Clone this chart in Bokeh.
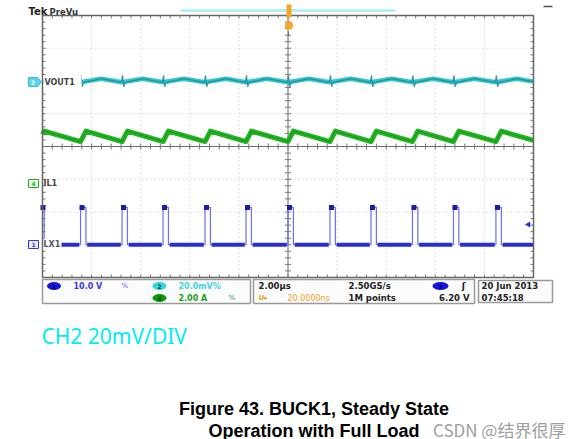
from bokeh.plotting import figure
from bokeh.embed import file_html
from bokeh.resources import INLINE
from bokeh.core.properties import value

# ---------------- data ----------------
time_per_div_us = 2.0
ch1_v_per_div = 10.0      # LX1
ch2_mv_per_div = 20.0     # VOUT1
ch4_a_per_div = 2.0       # IL1
ch1_offset_div = -3.0
ch2_offset_div = 2.02
ch4_offset_div = -1.13

lx_rise_us = [-10.15, -8.45, -6.76, -5.09, -3.38, -1.71, 0.0, 1.71, 3.38, 5.07, 6.74, 8.47]
lx_on_us = 0.22
lx_low_v = 0.0
lx_high_v = 11.4
il_valley_a = 2.56
il_peak_a = 3.20
vout_low_mv = -1.2
vout_high_mv = 1.0
vout_spike_up_mv = 3.0
vout_spike_dn_mv = -4.0
trig_level_v = 6.2

status_ch1 = "10.0 V"
status_ch2 = "20.0mV%"
status_ch4 = "2.00 A"
status_time = "2.00\u00b5s"
status_delay = "20.0000ns"
status_rate = "2.50GS/s"
status_points = "1M points"
status_trig = "6.20 V"
status_date = "20 Jun 2013"
status_clock = "07:45:18"
note_text = "CH2 20mV/DIV"
caption_lines = ["Figure 43. BUCK1, Steady State", "Operation with Full Load"]
watermark = "CSDN @\u7ed3\u754c\u5f88\u539a"

# ---------------- geometry ----------------
W, H = 583, 439
SX = 24.55   # px per microsecond
SY = 32.75   # px per division
GL, GT = 42, 15
x_start = -10 - GL / SX
x_end = x_start + W / SX
y_end = 4 + GT / SY
y_start = y_end - H / SY


def X(px):
    return x_start + px / SX


def Y(py):
    return y_end - py / SY


p = figure(width=W, height=H, x_range=(x_start, x_end), y_range=(y_start, y_end),
           x_axis_type=None, y_axis_type=None, toolbar_location=None,
           output_backend="svg", min_border=0, background_fill_color="white",
           border_fill_color="white")
p.outline_line_color = None


def T(px, py, text, color="#222222", size=8, bold=True, font="DejaVu Sans",
      align="left", baseline="middle"):
    p.text(x=[X(px)], y=[Y(py)], text=[text], text_color=color,
           text_font=value(font), text_font_size=f"{size}px",
           text_font_style="bold" if bold else "normal",
           text_align=align, text_baseline=baseline)


def R(x0, y0, x1, y1, fill="white", line=None, lw=1.0):
    p.quad(left=[X(x0)], right=[X(x1)], top=[Y(y0)], bottom=[Y(y1)],
           fill_color=fill, line_color=line, line_width=lw)


def clip(ts, vs, lo=-10.0, hi=10.0):
    ot, ov = [], []
    for i, (t, v) in enumerate(zip(ts, vs)):
        if lo <= t <= hi:
            if not ot and i > 0 and ts[i - 1] < lo:
                t0, v0 = ts[i - 1], vs[i - 1]
                vv = v if t == t0 else v0 + (v - v0) * (lo - t0) / (t - t0)
                ot.append(lo)
                ov.append(vv)
            ot.append(t)
            ov.append(v)
        elif t > hi and ot:
            t0, v0 = ts[i - 1], vs[i - 1]
            if t0 <= hi:
                ot.append(hi)
                ov.append(v0 + (v - v0) * (hi - t0) / (t - t0))
            break
    return ot, ov


period = (lx_rise_us[-1] - lx_rise_us[0]) / (len(lx_rise_us) - 1)

# ---------------- graticule ----------------
grid_x = [-8, -6, -4, -2, 2, 4, 6, 8]
grid_y = [-3, -2, -1, 1, 2, 3]
p.segment(x0=grid_x, x1=grid_x, y0=[-4] * len(grid_x), y1=[4] * len(grid_x),
          line_color="#c4c4c4", line_dash="1 3", line_width=1)
p.segment(x0=[-10] * len(grid_y), x1=[10] * len(grid_y), y0=grid_y, y1=grid_y,
          line_color="#c4c4c4", line_dash="1 3", line_width=1)
p.segment(x0=[0, -10], x1=[0, 10], y0=[-4, 0], y1=[4, 0], line_color="#6a6a6a", line_width=1)

tx = [-10 + 0.4 * i for i in range(51)]
ty = [-4 + 0.2 * i for i in range(41)]
tl = 3 / SY
tlx = 3 / SX
p.segment(x0=tx, x1=tx, y0=[-tl] * len(tx), y1=[tl] * len(tx), line_color="#777777")
p.segment(x0=tx, x1=tx, y0=[4] * len(tx), y1=[4 - tl] * len(tx), line_color="#777777")
p.segment(x0=tx, x1=tx, y0=[-4] * len(tx), y1=[-4 + tl] * len(tx), line_color="#777777")
p.segment(x0=[-tlx] * len(ty), x1=[tlx] * len(ty), y0=ty, y1=ty, line_color="#777777")
p.segment(x0=[-10] * len(ty), x1=[-10 + tlx] * len(ty), y0=ty, y1=ty, line_color="#777777")
p.segment(x0=[10] * len(ty), x1=[10 - tlx] * len(ty), y0=ty, y1=ty, line_color="#777777")

# ---------------- waveforms ----------------
# IL1 (green sawtooth)
il_t, il_v = [], []
for r in lx_rise_us:
    il_t += [r, r + lx_on_us]
    il_v += [il_valley_a, il_peak_a]
il_t.append(lx_rise_us[-1] + period)
il_v.append(il_valley_a)
il_t, il_v = clip(il_t, il_v)
il_y = [ch4_offset_div + v / ch4_a_per_div for v in il_v]
p.line(il_t, il_y, line_color="#22b422", line_width=5, line_join="round")
p.line(il_t, il_y, line_color="#138c13", line_width=1, line_alpha=0.7)

# VOUT1 (cyan ripple): thick band without the spikes, thin line with the spikes
rb_t, rb_v = [], []
vo_t, vo_v = [], []
for r in lx_rise_us:
    rb_t += [r, r + period * 0.5]
    rb_v += [vout_low_mv, vout_high_mv]
    vo_t += [r - 0.03, r + 0.02, r + 0.07, r + 0.13, r + period * 0.5]
    vo_v += [vout_low_mv, vout_spike_up_mv, vout_spike_dn_mv, vout_low_mv, vout_high_mv]
rb_t.append(lx_rise_us[-1] + period)
rb_v.append(vout_low_mv)
vo_t.append(lx_rise_us[-1] + period)
vo_v.append(vout_low_mv)
rb_t, rb_v = clip(rb_t, rb_v)
vo_t, vo_v = clip(vo_t, vo_v)
rb_y = [ch2_offset_div + v / ch2_mv_per_div for v in rb_v]
vo_y = [ch2_offset_div + v / ch2_mv_per_div for v in vo_v]
p.line(rb_t, rb_y, line_color="#34c4ce", line_width=4.5, line_join="round")
p.line(vo_t, vo_y, line_color="#1a8a94", line_width=1.2, line_alpha=0.85)

# LX1 (blue switch node)
lx_t, lx_v = [], []
for r in lx_rise_us:
    lx_t += [r, r, r + lx_on_us, r + lx_on_us]
    lx_v += [lx_low_v, lx_high_v, lx_high_v, lx_low_v]
lx_t.append(10.5)
lx_v.append(lx_low_v)
lx_t, lx_v = clip(lx_t, lx_v)
lx_y = [ch1_offset_div + v / ch1_v_per_div for v in lx_v]
p.line(lx_t, lx_y, line_color="#6a72e6", line_width=1.2)
low_x0 = [max(r + lx_on_us + 0.05, -10) for r in lx_rise_us]
low_x1 = [min(nr - 0.05, 10) for nr in lx_rise_us[1:]] + [10]
low_y = ch1_offset_div + lx_low_v / ch1_v_per_div
p.segment(x0=low_x0, x1=low_x1, y0=[low_y] * len(low_x0), y1=[low_y] * len(low_x0),
          line_color="#2430d0", line_width=4)
top_x = [max(r + 0.06, -9.98) for r in lx_rise_us]
p.scatter(top_x, [ch1_offset_div + lx_high_v / ch1_v_per_div] * len(top_x), marker="square",
          size=5, fill_color="#1c1ca8", line_color=None)

# trigger level marker (right)
p.scatter([X(528)], [ch1_offset_div + trig_level_v / ch1_v_per_div], marker="triangle",
          angle=1.5708, size=6, fill_color="#2030e0", line_color=None)

# border
p.quad(left=[-10], right=[10], bottom=[-4], top=[4], fill_color=None,
       line_color="#666666", line_width=1.5)

# ---------------- channel labels ----------------
R(43, 75, 81, 88, fill="white")
R(43, 238, 61, 250, fill="white")
p.patch([X(28), X(37), X(41), X(37), X(28)], [Y(77), Y(77), Y(81.5), Y(86), Y(86)],
        fill_color="#5cd2e6", line_color="#3cbcd6")
T(32.5, 81.5, "2", color="white", size=6, align="center")
T(44, 81.5, "VOUT1", color="#444444", size=8)
R(28, 179, 38, 187, fill="#eefaee", line="#22aa22")
T(33, 183, "4", color="#22aa22", size=6, align="center")
T(43, 183, "IL1", color="#444444", size=8)
R(28, 240, 38, 248, fill="#eeeefc", line="#3333dd")
T(33, 244, "1", color="#3333dd", size=6, align="center")
T(43, 244, "LX1", color="#555566", size=8)

# ---------------- top decorations ----------------
T(28, 11, "Tek", color="#222222", size=10)
T(49, 11.5, "PreVu", color="#333333", size=8.5)
p.segment(x0=[X(180)], x1=[X(395)], y0=[Y(10)], y1=[Y(10)], line_color="#b5eef6", line_width=3)
R(286, 4, 291, 17, fill="#f5a623", line=None)
p.scatter([X(288.5)], [Y(25)], marker="circle", size=8, fill_color="#f5a623", line_color=None)
p.segment(x0=[X(288)], x1=[X(288)], y0=[Y(31)], y1=[Y(36)], line_color="#777777")
p.segment(x0=[X(543)], x1=[X(552)], y0=[Y(6)], y1=[Y(6)], line_color="#555555", line_width=1.5)

# ---------------- status bar ----------------
R(42, 279, 250, 303, fill="#fbfbfb", line="#9a9a9a", lw=1.5)
R(253, 279, 474, 303, fill="#fbfbfb", line="#9a9a9a", lw=1.5)
R(478, 280, 552, 302, fill="#fbfbfb", line="#9a9a9a", lw=1.5)

p.ellipse(x=[X(53.5)], y=[Y(285.5)], width=14 / SX, height=8 / SY, fill_color="#1414e0", line_color=None)
T(53.5, 285.5, "1", color="#000033", size=6, align="center")
T(73, 285.5, status_ch1, color="#3838e0", size=8)
T(121, 285.5, "%", color="#5a5ae6", size=7, bold=False)
p.ellipse(x=[X(159)], y=[Y(285.5)], width=14 / SX, height=8 / SY, fill_color="#30d8e0", line_color=None)
T(159, 285.5, "2", color="#003333", size=6, align="center")
T(178, 285.5, status_ch2, color="#40d4e0", size=8)
p.ellipse(x=[X(159)], y=[Y(297.5)], width=14 / SX, height=8 / SY, fill_color="#0a9a0a", line_color=None)
T(159, 297.5, "4", color="#003300", size=6, align="center")
T(178, 297.5, status_ch4, color="#20a020", size=8)
T(228, 297.5, "%", color="#30a030", size=7, bold=False)

T(258, 285.5, status_time, color="#222222", size=8.5)
T(258, 297.5, "U\u25b8", color="#f0a020", size=7)
T(287, 297.5, status_delay, color="#f0a020", size=8, bold=False)
T(348, 285.5, status_rate, color="#222222", size=8.5)
T(348, 297.5, status_points, color="#222222", size=8.5)
p.ellipse(x=[X(440)], y=[Y(285.5)], width=16 / SX, height=8 / SY, fill_color="#1414e0", line_color=None)
T(440, 285.5, "1", color="#000033", size=6, align="center")
T(463, 285.5, "\u0283", color="#222222", size=9, align="center")
T(469, 297.5, status_trig, color="#222222", size=8.5, align="right")
T(481, 285.5, status_date, color="#222222", size=8.5)
T(481, 297.5, status_clock, color="#222222", size=8.5)

# ---------------- texts below ----------------
T(41, 335, note_text, color="#00eef2", size=21, bold=False, font="Noto Sans", baseline="alphabetic")
T(313.5, 408, caption_lines[0], color="#000000", size=18, bold=True, font="Liberation Sans",
  align="center", baseline="alphabetic")
T(313.5, 430, caption_lines[1], color="#000000", size=18, bold=True, font="Liberation Sans",
  align="center", baseline="alphabetic")
T(432.5, 429, watermark, color="#a0a0a0", size=17, bold=False, font="Noto Sans CJK SC",
  baseline="alphabetic")

open("out.html", "w").write(file_html(p, INLINE))
